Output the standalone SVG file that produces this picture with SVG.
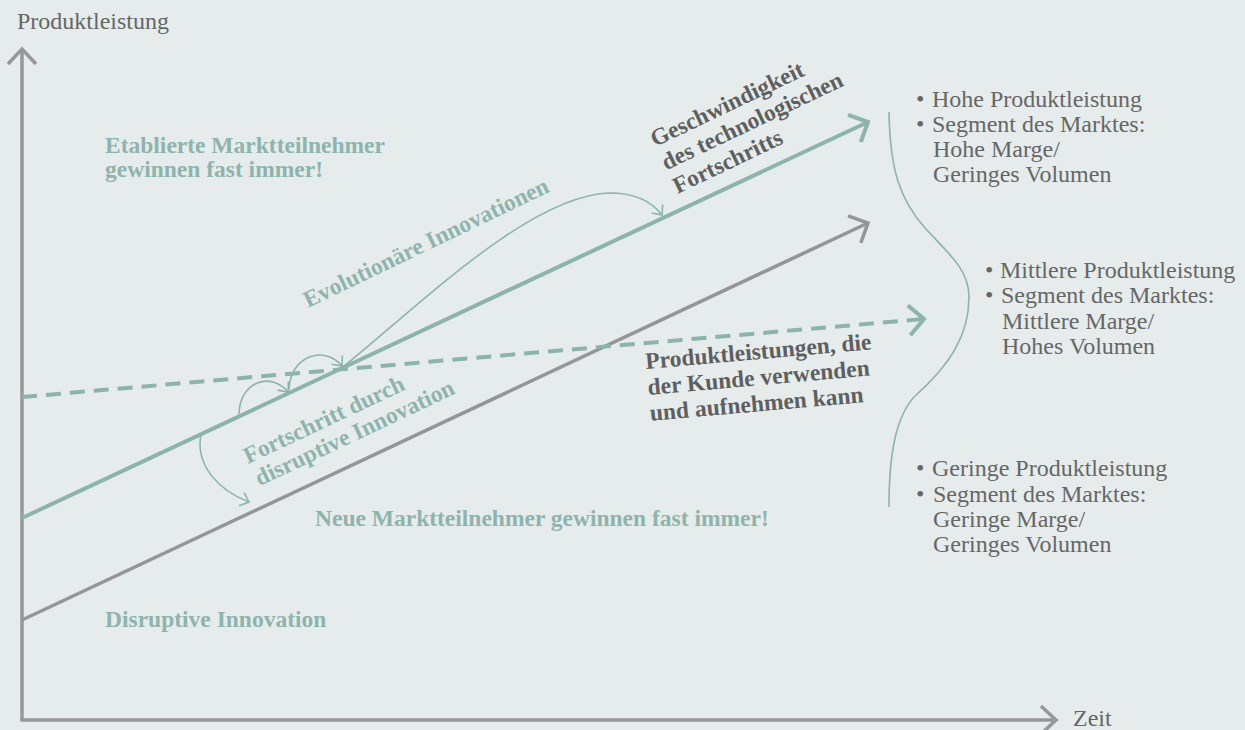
<svg xmlns="http://www.w3.org/2000/svg" width="1245" height="730" viewBox="0 0 1245 730">
<defs>
<style>
.reg{font-family:"Liberation Serif","Times New Roman",serif;font-size:24px;fill:#666666}
.bt{font-family:"Liberation Serif","Times New Roman",serif;font-size:23.5px;font-weight:bold;fill:#8fb3ad}
.bd{font-family:"Liberation Serif","Times New Roman",serif;font-size:23.5px;font-weight:bold;fill:#5f5f5f}
.axis{fill:none;stroke:#979797;stroke-width:3.5}
.teal{fill:none;stroke:#8cb3ac;stroke-width:4}
.gray{fill:none;stroke:#959595;stroke-width:3.5}
.dash{fill:none;stroke:#8cb3ac;stroke-width:4;stroke-dasharray:15 9}
.thin{fill:none;stroke:#8cb3ac;stroke-width:1.6}
</style>
<marker id="ahTeal" markerUnits="userSpaceOnUse" orient="auto" viewBox="-20 -20 40 40" markerWidth="40" markerHeight="40" refX="0" refY="0" overflow="visible">
<path d="M-15,-15 L0,0 L-15,15" fill="none" stroke="#8cb3ac" stroke-width="4"/>
</marker>
<marker id="ahGray" markerUnits="userSpaceOnUse" orient="auto" viewBox="-20 -20 40 40" markerWidth="40" markerHeight="40" refX="0" refY="0" overflow="visible">
<path d="M-15,-15 L0,0 L-15,15" fill="none" stroke="#959595" stroke-width="3.5"/>
</marker>
<marker id="ahAxis" markerUnits="userSpaceOnUse" orient="auto" viewBox="-20 -20 40 40" markerWidth="40" markerHeight="40" refX="0" refY="0" overflow="visible">
<path d="M-15,-14 L0,0 L-15,14" fill="none" stroke="#979797" stroke-width="3.5"/>
</marker>
<marker id="ahSmall" markerUnits="userSpaceOnUse" orient="auto" viewBox="-12 -12 24 24" markerWidth="24" markerHeight="24" refX="0" refY="0" overflow="visible">
<path d="M-8,-7 L0,0 L-8,7" fill="none" stroke="#8cb3ac" stroke-width="1.6"/>
</marker>
</defs>
<rect x="0" y="0" width="1245" height="730" fill="#e6ecec"/>

<g id="axes">
<path class="axis" d="M22,720 L22,49" marker-end="url(#ahAxis)"/>
<path class="axis" d="M20.25,720 L1056,720" marker-end="url(#ahAxis)"/>
<text class="reg" x="17" y="29">Produktleistung</text>
<text class="reg" x="1073" y="726">Zeit</text>
</g>

<g id="connectors">
<path class="teal" d="M22,518 L868,122" marker-end="url(#ahTeal)"/>
<path class="gray" d="M22,620 L868,223" marker-end="url(#ahGray)"/>
<path class="dash" d="M22,397 L924,319" marker-end="url(#ahTeal)"/>
<path class="thin" d="M239,414 C240,380 272,372 288,392" marker-end="url(#ahSmall)"/>
<path class="thin" d="M289,390 C290,355 325,345 342,366" marker-end="url(#ahSmall)"/>
<path class="thin" d="M343,367 C420,305 530,195 610,193 C635,193 652,202 662,215" marker-end="url(#ahSmall)"/>
<path class="thin" d="M201,434 C195,465 218,490 249,502" marker-end="url(#ahSmall)"/>
<path class="thin" d="M889,112 C890,170 900,200 925,228 C950,255 969,270 969,297 C969,335 950,365 915,396 C897,415 889,450 889,507"/>
</g>

<g id="label-etabliert">
<text class="bt" x="105" y="153">Etablierte Marktteilnehmer</text>
<text class="bt" x="105" y="177">gewinnen fast immer!</text>
</g>

<g id="label-evolutionaer">
<text class="bt" transform="translate(308,308) rotate(-25.7)">Evolutionäre Innovationen</text>
</g>

<g id="label-geschwindigkeit">
<text class="bd" transform="translate(655,147) rotate(-25.5)"><tspan x="0" y="0">Geschwindigkeit</tspan><tspan x="0" y="26">des technologischen</tspan><tspan x="0" y="52">Fortschritts</tspan></text>
</g>

<g id="label-fortschritt">
<text class="bt" transform="translate(248,464) rotate(-25.3)"><tspan x="0" y="0">Fortschritt durch</tspan><tspan x="1" y="25">disruptive Innovation</tspan></text>
</g>

<g id="label-kunde">
<text class="bd" transform="translate(646,369) rotate(-5)"><tspan x="0" y="0">Produktleistungen, die</tspan><tspan x="0" y="26">der Kunde verwenden</tspan><tspan x="0" y="52">und aufnehmen kann</tspan></text>
</g>

<g id="label-neue">
<text class="bt" x="315" y="526">Neue Marktteilnehmer gewinnen fast immer!</text>
</g>

<g id="label-disruptive">
<text class="bt" x="105" y="627">Disruptive Innovation</text>
</g>

<g id="segment-hoch">
<text class="reg"><tspan x="916" y="107">•</tspan><tspan x="932" y="107">Hohe Produktleistung</tspan></text>
<text class="reg"><tspan x="916" y="132">•</tspan><tspan x="932" y="132">Segment des Marktes:</tspan></text>
<text class="reg" x="933" y="157">Hohe Marge/</text>
<text class="reg" x="933" y="182">Geringes Volumen</text>
</g>

<g id="segment-mittel">
<text class="reg"><tspan x="985" y="278">•</tspan><tspan x="1000" y="278">Mittlere Produktleistung</tspan></text>
<text class="reg"><tspan x="985" y="303">•</tspan><tspan x="1001" y="303">Segment des Marktes:</tspan></text>
<text class="reg" x="1002" y="329">Mittlere Marge/</text>
<text class="reg" x="1002" y="354">Hohes Volumen</text>
</g>

<g id="segment-gering">
<text class="reg"><tspan x="916" y="476">•</tspan><tspan x="932" y="476">Geringe Produktleistung</tspan></text>
<text class="reg"><tspan x="916" y="502">•</tspan><tspan x="933" y="502">Segment des Marktes:</tspan></text>
<text class="reg" x="933" y="527">Geringe Marge/</text>
<text class="reg" x="933" y="552">Geringes Volumen</text>
</g>
</svg>
